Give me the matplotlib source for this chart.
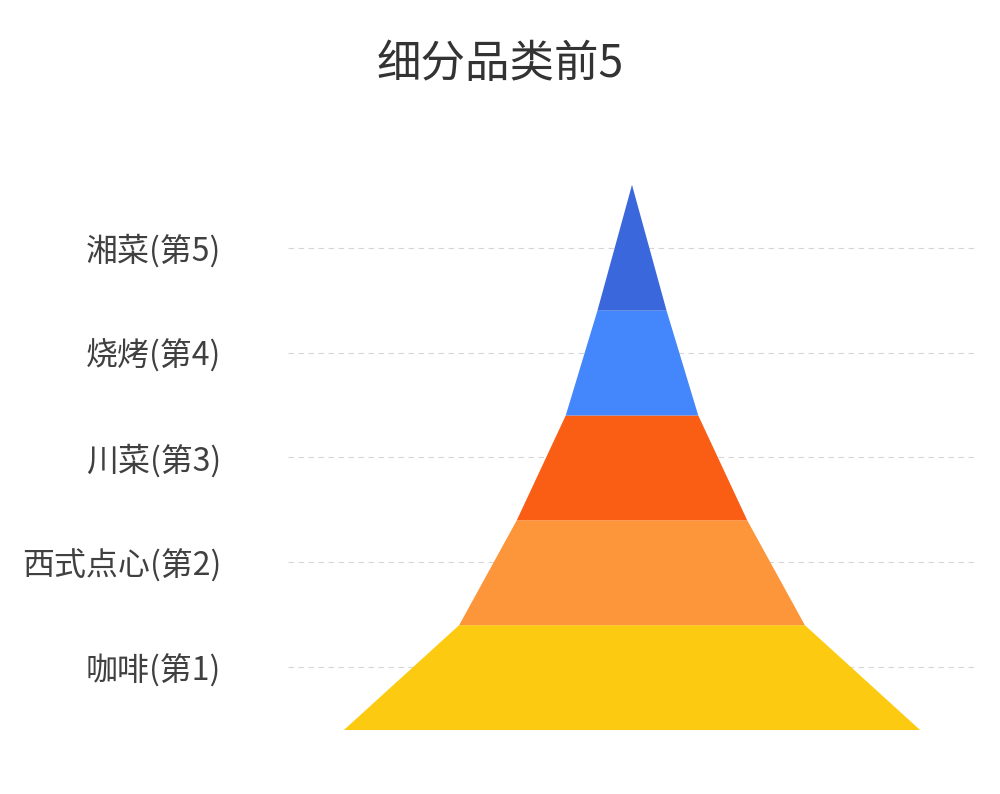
import matplotlib
matplotlib.use("Agg")
import matplotlib.pyplot as plt

plt.rcParams['font.family'] = ['Noto Sans CJK SC', 'DejaVu Sans']

# bottom to top
categories = ["咖啡(第1)", "西式点心(第2)", "川菜(第3)", "烧烤(第4)", "湘菜(第5)"]
values = [100, 60, 40, 23, 12]
colors = ["#FCCB11", "#FD963A", "#FA5E14", "#4486FB", "#3A68DC"]

fig = plt.figure(figsize=(10, 7.94), dpi=100)
ax = fig.add_axes([0.288, 0.0806, 0.688, 0.6866])

# each band spans from its width to the next one's width, last one closes to a point
widths = values + [0]
n = len(values)
for i in range(n):
    y0 = i - 0.6
    y1 = i + 0.4 if i < n - 1 else i + 0.6
    w0, w1 = widths[i] / 2, widths[i + 1] / 2
    ax.fill([-w0, w0, w1, -w1], [y0, y0, y1, y1], color=colors[i], lw=0, zorder=2)

ax.set_xlim(-59.7, 59.7)
ax.set_ylim(-0.6, n - 0.4)
ax.set_yticks(range(n))
ax.set_yticklabels(categories, fontsize=23, color="#404040")
ax.set_xticks([])
ax.tick_params(axis="y", length=0, pad=48)
ax.grid(axis="y", color="#d6d6d6", linestyle=(0, (5, 4)), linewidth=0.8, zorder=0)
ax.set_axisbelow(True)
for s in ax.spines.values():
    s.set_visible(False)

fig.text(0.5, 0.92, "细分品类前5", ha="center", va="center", fontsize=32, color="#333333")

fig.savefig("out.png", dpi=100, facecolor="white")
